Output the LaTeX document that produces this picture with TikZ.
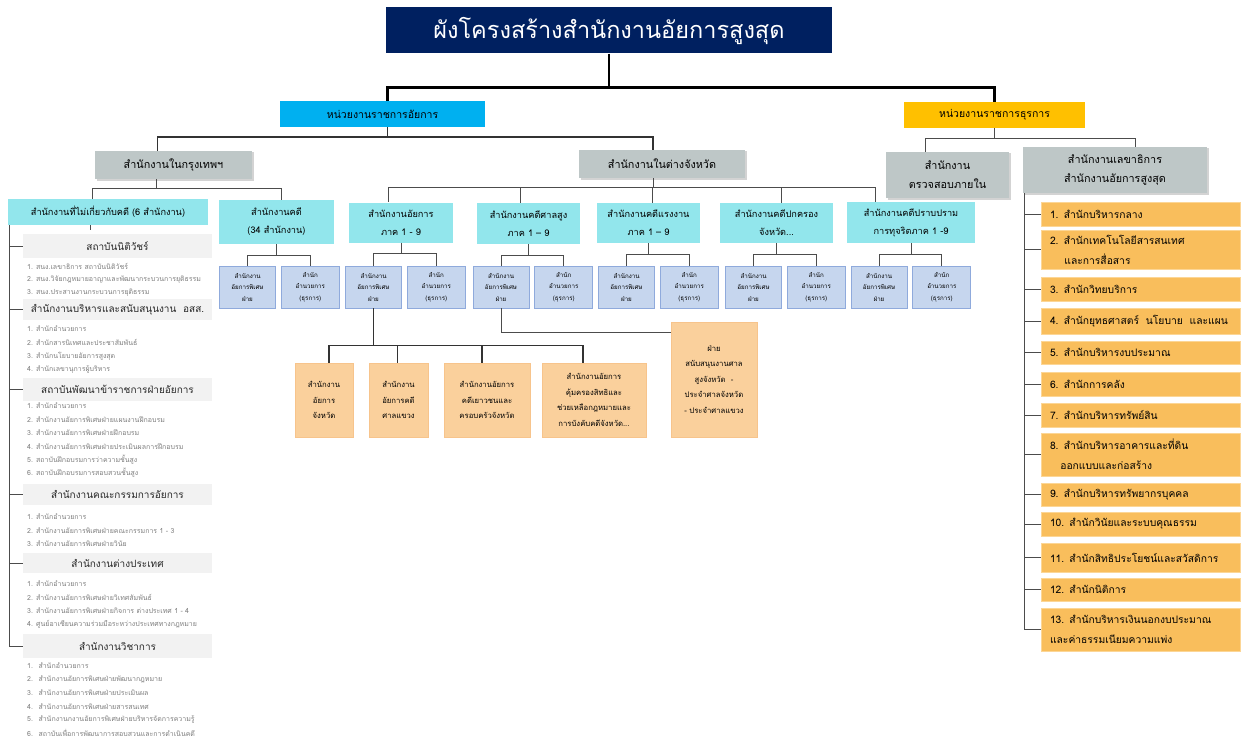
\documentclass[tikz,border=0pt]{standalone}
\usepackage{fontspec}
\setmainfont[Script=Thai]{Loma}
\usetikzlibrary{positioning,shadows}
\definecolor{navy}{RGB}{0,32,96}
\definecolor{govcyan}{RGB}{0,176,240}
\definecolor{admyellow}{RGB}{255,192,0}
\definecolor{areagray}{RGB}{190,199,199}
\definecolor{litcyan}{RGB}{146,230,236}
\definecolor{subblue}{RGB}{198,214,238}
\definecolor{subedge}{RGB}{143,170,220}
\definecolor{peach}{RGB}{250,208,156}
\definecolor{peachedge}{RGB}{247,196,140}
\definecolor{secorange}{RGB}{249,190,92}
\definecolor{secedge}{RGB}{252,214,150}
\definecolor{headgray}{RGB}{242,242,242}
\definecolor{headtext}{RGB}{40,40,40}
\definecolor{itemgray}{RGB}{125,125,125}
\tikzset{
  box/.style={inner sep=0pt, align=center, text=black},
  sz/.style 2 args={minimum width=#1, minimum height=#2},
  chartbox/.style={box, fill=navy, text=white, font=\fontsize{23.5}{28}\selectfont},
  prosecbox/.style={box, fill=govcyan, font=\fontsize{10.5}{12}\selectfont},
  adminbox/.style={box, fill=admyellow, font=\fontsize{10.5}{12}\selectfont},
  areabox/.style={box, fill=areagray, font=\fontsize{10.8}{19}\selectfont,
    drop shadow={shadow xshift=1.5pt, shadow yshift=-1.5pt, opacity=.35}},
  officebox/.style={box, fill=litcyan, font=\fontsize{9.2}{18}\selectfont},
  subbox/.style={box, fill=subblue, draw=subedge, line width=.8pt,
    font=\fontsize{6.2}{11.5}\selectfont},
  provbox/.style={box, fill=peach, draw=peachedge, line width=.6pt,
    font=\fontsize{7.7}{15.5}\selectfont},
  secitem/.style={box, fill=secorange, draw=secedge, line width=.6pt, align=left,
    text width=181pt, minimum width=199pt, font=\fontsize{10.3}{20}\selectfont},
  grouphead/.style={box, fill=headgray, text=headtext, minimum width=189pt,
    font=\fontsize{10}{11}\selectfont},
  listitem/.style={inner sep=0pt, anchor=west, text=itemgray,
    font=\fontsize{7}{8}\selectfont},
  trunk/.style={line width=2.6pt, black},
  link/.style={line width=1.4pt, black!80},
  twig/.style={line width=.9pt, black!70}
}
\begin{document}
\begin{tikzpicture}[x=1pt, y=-1pt]
  \useasboundingbox (0,0) rectangle (1242,749);

  \node[chartbox, sz={446}{46}] (chart) at (609,30.5) {ผังโครงสร้างสำนักงานอัยการสูงสุด};
  \node[prosecbox, sz={205}{26}] (prosec) at (382.5,114) {หน่วยงานราชการอัยการ};
  \node[adminbox, sz={181}{26}] (admin) at (994.5,115) {หน่วยงานราชการธุรการ};
  \node[areabox, sz={157}{28}] (bkk) at (173.5,165) {สำนักงานในกรุงเทพฯ};
  \node[areabox, sz={166}{28}] (prov) at (662,164) {สำนักงานในต่างจังหวัด};
  \node[areabox, sz={123}{46}] (audit) at (947.5,175) {สำนักงาน\\ตรวจสอบภายใน};
  \node[areabox, sz={184}{46}] (secgen) at (1115,170) {สำนักงานเลขาธิการ\\สำนักงานอัยการสูงสุด};

  \draw[trunk] (chart.south) -- ++(0,34) coordinate (cj);
  \draw[trunk] ([xshift=5pt]prosec.north) |- (cj) -| (admin.north);
  \draw[link] ([xshift=5pt]prosec.south) -- ++(0,10) coordinate (pj)
    -| ([xshift=-16pt]bkk.north);
  \draw[link] (pj) -| ([xshift=-9pt]prov.north);
  \draw[twig] (admin.south) -- ++(0,10) coordinate (aj) -| ([xshift=-22pt]audit.north);
  \draw[twig] (aj) -| ([xshift=20pt]secgen.north);

  % Bangkok
  \node[officebox, sz={200}{26}] (nonlit) at (108,212) {สำนักงานที่ไม่เกี่ยวกับคดี (6 สำนักงาน)};
  \node[officebox, sz={115}{44}] (lit) at (276.5,222) {สำนักงานคดี\\(34 สำนักงาน)};
  \draw[twig] ([xshift=-17pt]bkk.south) -- ++(0,9) coordinate (bj) -| ([xshift=-16pt]nonlit.north);
  \draw[twig] (bj) -| ([xshift=5pt]lit.north);

  % provinces
  \node[officebox, sz={104}{40}] (reg) at (401,222.5) {สำนักงานอัยการ\\ภาค 1 - 9};
  \node[officebox, sz={103}{41}] (high) at (528.5,223.5) {สำนักงานคดีศาลสูง\\ภาค 1 – 9};
  \node[officebox, sz={103}{40}] (labor) at (648.5,223) {สำนักงานคดีแรงงาน\\ภาค 1 – 9};
  \node[officebox, sz={113}{40}] (admc) at (776.5,223) {สำนักงานคดีปกครอง\\จังหวัด...};
  \node[officebox, sz={128}{41}] (corr) at (911,222.5) {สำนักงานคดีปราบปราม\\การทุจริตภาค 1 -9};
  \draw[twig] ([xshift=-9pt]prov.south) -- ++(0,9) coordinate (vj) -| ([xshift=-13pt]reg.north);
  \foreach \o/\dx in {high/-8, labor/4, admc/5, corr/-36}
    \draw[twig] (vj) -| ([xshift=\dx pt]\o.north);

  \foreach \o/\x in {lit/247.5, reg/373.5, high/501, labor/626.5, admc/753.5, corr/879} {
    \node[subbox, sz={56}{42}] (\o-sp) at (\x,287) {สำนักงาน\\อัยการพิเศษ\\ฝ่าย};
    \node[subbox, sz={58}{42}, right=5pt of \o-sp] (\o-gen) {สำนัก\\อำนวยการ\\(ธุรการ)};
    \draw[twig] (\o.south) -- ++(0,11) coordinate (\o-j) -| (\o-sp.north);
    \draw[twig] (\o-j) -| (\o-gen.north);
  }

  \node[provbox, sz={58}{74}] (prv1) at (324,400) {สำนักงาน\\อัยการ\\จังหวัด};
  \node[provbox, sz={59}{74}] (prv2) at (398.5,400) {สำนักงาน\\อัยการคดี\\ศาลแขวง};
  \node[provbox, sz={86}{74}] (prv3) at (487,400) {สำนักงานอัยการ\\คดีเยาวชนและ\\ครอบครัวจังหวัด};
  \node[provbox, sz={104}{74}] (prv4) at (594,400) {สำนักงานอัยการ\\คุ้มครองสิทธิและ\\ช่วยเหลือกฎหมายและ\\การบังคับคดีจังหวัด...};
  \node[provbox, sz={86}{115}] (prv5) at (714,379.5) {ฝ่าย\\สนับสนุนงานศาล\\สูงจังหวัด~ -\\ประจำศาลจังหวัด\\- ประจำศาลแขวง};
  \draw[link] (reg-sp.south) -- ++(0,37) coordinate (rj) -| ([xshift=5pt]prv1.north);
  \foreach \p/\dx in {prv2/-1, prv3/-5, prv4/-11}
    \draw[link] (rj) -| ([xshift=\dx pt]\p.north);
  \draw[twig] (high-sp.south) |- ([yshift=47.5pt]prv5.west);

  % secretariat
  \foreach \y/\h/\t [count=\i] in {
      214/24/{1. สำนักบริหารกลาง},
      249.5/39/{2. สำนักเทคโนโลยีสารสนเทศ\\\hspace*{1.4em}และการสื่อสาร},
      289/24/{3. สำนักวิทยบริการ},
      321/26/{4. สำนักยุทธศาสตร์~ นโยบาย~ และแผน},
      352.5/23/{5. สำนักบริหารงบประมาณ},
      384/24/{6. สำนักการคลัง},
      415/24/{7. สำนักบริหารทรัพย์สิน},
      454.5/43/{8. สำนักบริหารอาคารและที่ดิน\\\hspace*{1em}ออกแบบและก่อสร้าง},
      494.5/23/{9. สำนักบริหารทรัพยากรบุคคล},
      524/24/{10. สำนักวินัยและระบบคุณธรรม},
      557.5/29/{11. สำนักสิทธิประโยชน์และสวัสดิการ},
      589.5/23/{12. สำนักนิติการ},
      629.5/43/{13. สำนักบริหารเงินนอกงบประมาณ\\และค่าธรรมเนียมความแพ่ง}} {
    \node[secitem, minimum height=\h] (sec\i) at (1140.5,\y) {\t};
    \draw[twig] ([xshift=2pt]secgen.south west) |- (sec\i.west);
  }

  % non-litigation offices
  \draw[twig] ([xshift=-18pt]nonlit.south) -- ++(0,5);
  \foreach \y/\h/\t [count=\i] in {
      246/24/สถาบันนิติวัชร์,
      309.5/21/{สำนักงานบริหารและสนับสนุนงาน~ อสส.},
      389.5/23/สถาบันพัฒนาข้าราชการฝ่ายอัยการ,
      494.5/21/สำนักงานคณะกรรมการอัยการ,
      563/20/สำนักงานต่างประเทศ,
      646/24/สำนักงานวิชาการ} {
    \node[grouphead, minimum height=\h] (grp\i) at (117.5,\y) {\t};
    \draw[twig] ([xshift=2pt]nonlit.south west) |- (grp\i.west);
  }
  \foreach \t [count=\k] in {1. สนง.เลขาธิการ สถาบันนิติวัชร์,
      2. สนง.วิจัยกฎหมายอาญาและพัฒนากระบวนการยุติธรรม,
      3. สนง.ประสานงานกระบวนการยุติธรรม}
    \node[listitem] (grp1-\k) at (27,266+13.4*\k-13.4) {\t};
  \foreach \t [count=\k] in {1. สำนักอำนวยการ, 2. สำนักสารนิเทศและประชาสัมพันธ์,
      3. สำนักนโยบายอัยการสูงสุด, 4. สำนักเลขานุการผู้บริหาร}
    \node[listitem] (grp2-\k) at (27,329+13.4*\k-13.4) {\t};
  \foreach \t [count=\k] in {1. สำนักอำนวยการ,
      2. สำนักงานอัยการพิเศษฝ่ายแผนงานฝึกอบรม,
      3. สำนักงานอัยการพิเศษฝ่ายฝึกอบรม,
      4. สำนักงานอัยการพิเศษฝ่ายประเมินผลการฝึกอบรม,
      5. สถาบันฝึกอบรมการว่าความชั้นสูง,
      6. สถาบันฝึกอบรมการสอบสวนชั้นสูง}
    \node[listitem] (grp3-\k) at (27,406+13.4*\k-13.4) {\t};
  \foreach \t [count=\k] in {1. สำนักอำนวยการ,
      2. สำนักงานอัยการพิเศษฝ่ายคณะกรรมการ 1 - 3,
      3. สำนักงานอัยการพิเศษฝ่ายวินัย}
    \node[listitem] (grp4-\k) at (27,517+13.4*\k-13.4) {\t};
  \foreach \t [count=\k] in {1. สำนักอำนวยการ,
      2. สำนักงานอัยการพิเศษฝ่ายวิเทศสัมพันธ์,
      3. สำนักงานอัยการพิเศษฝ่ายกิจการ ต่างประเทศ 1 - 4,
      4. ศูนย์อาเซียนความร่วมมือระหว่างประเทศทางกฎหมาย}
    \node[listitem] (grp5-\k) at (27,584+13.4*\k-13.4) {\t};
  \foreach \t [count=\k] in {1.~ สำนักอำนวยการ,
      2.~ สำนักงานอัยการพิเศษฝ่ายพัฒนากฎหมาย,
      3.~ สำนักงานอัยการพิเศษฝ่ายประเมินผล,
      4.~ สำนักงานอัยการพิเศษฝ่ายสารสนเทศ,
      5.~ สำนักงานกงานอัยการพิเศษฝ่ายบริหารจัดการความรู้,
      6.~ สถาบันเพื่อการพัฒนาการสอบสวนและการดำเนินคดี}
    \node[listitem] (grp6-\k) at (27,666+13.4*\k-13.4) {\t};
\end{tikzpicture}
\end{document}
